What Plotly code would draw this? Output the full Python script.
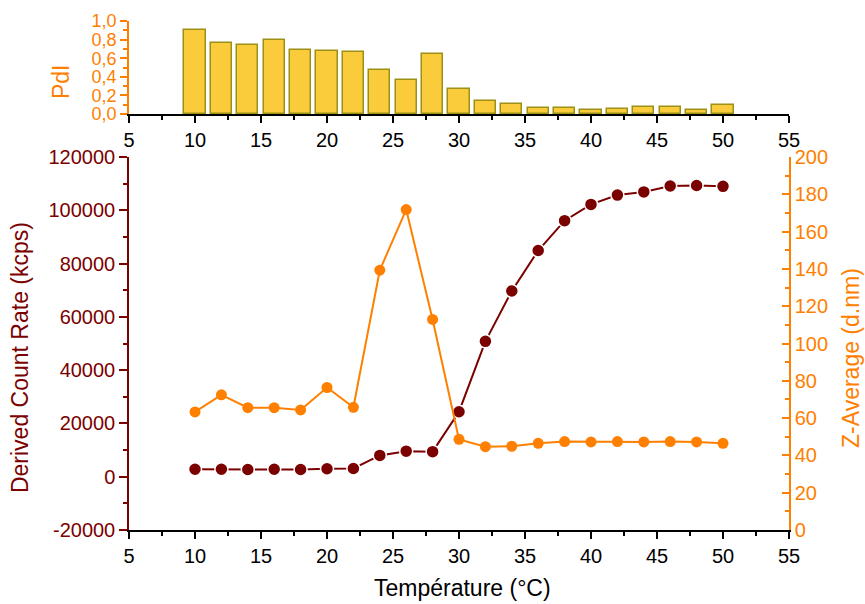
import plotly.graph_objects as go

temps = [10, 12, 14, 16, 18, 20, 22, 24, 26, 28, 30, 32, 34, 36, 38, 40, 42, 44, 46, 48, 50]
pdi = [0.90, 0.76, 0.745, 0.80, 0.685, 0.677, 0.67, 0.47, 0.37, 0.645, 0.27,
       0.14, 0.105, 0.065, 0.065, 0.047, 0.058, 0.075, 0.072, 0.047, 0.094]
count_rate = [2800, 2800, 2700, 2800, 2700, 3000, 3100, 8000, 9600, 9400, 24400,
              50800, 69700, 84900, 96100, 102200, 105700, 106900, 109100, 109300, 109000]
z_avg = [63.3, 72.5, 65.6, 65.6, 64.4, 76.4, 65.8, 139.3, 171.8, 112.9, 48.6,
         44.7, 44.9, 46.5, 47.4, 47.2, 47.4, 47.2, 47.4, 47.2, 46.5]

x_ticks = [5, 10, 15, 20, 25, 30, 35, 40, 45, 50, 55]
x_ticktext = [str(v) for v in x_ticks]
left_ticks = [-20000, 0, 20000, 40000, 60000, 80000, 100000, 120000]
left_ticktext = [str(v) for v in left_ticks]
right_ticks = [0, 20, 40, 60, 80, 100, 120, 140, 160, 180, 200]
right_ticktext = [str(v) for v in right_ticks]
pdi_ticks = [0.0, 0.2, 0.4, 0.6, 0.8, 1.0]
pdi_ticktext = ["0,0", "0,2", "0,4", "0,6", "0,8", "1,0"]

MAROON = "#7B0000"
ORANGE = "#FF8000"
FONT = "Liberation Sans, Arial, sans-serif"

fig = go.Figure()

fig.add_trace(go.Bar(
    x=temps, y=pdi, width=1.6, xaxis="x2", yaxis="y3",
    marker=dict(color="#FACB3A", line=dict(color="#9C9117", width=1.5)),
    showlegend=False,
))
fig.add_trace(go.Scatter(
    x=temps, y=count_rate, xaxis="x", yaxis="y", mode="lines+markers",
    line=dict(color=MAROON, width=2),
    marker=dict(color=MAROON, size=13, line=dict(color="white", width=1.5)),
    showlegend=False,
))
fig.add_trace(go.Scatter(
    x=temps, y=z_avg, xaxis="x", yaxis="y2", mode="lines+markers",
    line=dict(color=ORANGE, width=2),
    marker=dict(color=ORANGE, size=11),
    showlegend=False,
))

main_top = 373 / 509
top_bottom = 416 / 509

common_x = dict(
    range=[5, 55], tickvals=x_ticks, ticktext=x_ticktext,
    showgrid=False, zeroline=False, showline=True, linecolor="black", linewidth=1.5,
    ticks="outside", ticklen=7, tickwidth=1.5, tickcolor="black",
    tickfont=dict(family=FONT, size=20, color="black"),
    minor=dict(dtick=2.5, tick0=5, ticks="outside", ticklen=4, tickwidth=1.5, tickcolor="black", showgrid=False),
    fixedrange=True, automargin=False,
)

fig.update_layout(
    width=865, height=604,
    margin=dict(l=129, r=76, t=21, b=74, autoexpand=False),
    paper_bgcolor="white", plot_bgcolor="white",
    font=dict(family=FONT),
    bargap=0,
    xaxis=dict(domain=[0, 1], anchor="y", **common_x),
    xaxis2=dict(domain=[0, 1], anchor="y3", **common_x),
    yaxis=dict(
        domain=[0, main_top], range=[-20000, 120000], anchor="x", automargin=False,
        tickvals=left_ticks, ticktext=left_ticktext,
        showgrid=False, zeroline=False, showline=True, linecolor=MAROON, linewidth=1.5,
        ticks="outside", ticklen=8, tickwidth=1.5, tickcolor=MAROON,
        tickfont=dict(family=FONT, size=20, color=MAROON),
        minor=dict(dtick=10000, tick0=0, ticks="outside", ticklen=4, tickwidth=1.5, tickcolor=MAROON, showgrid=False),
    ),
    yaxis2=dict(
        domain=[0, main_top], range=[0, 200], anchor="x", overlaying="y", side="right", automargin=False,
        tickvals=right_ticks, ticktext=right_ticktext,
        showgrid=False, zeroline=False, showline=True, linecolor=ORANGE, linewidth=1.5,
        ticks="inside", ticklen=7, tickwidth=1.5, tickcolor=ORANGE,
        tickfont=dict(family=FONT, size=20, color=ORANGE),
        minor=dict(dtick=10, tick0=0, ticks="inside", ticklen=4, tickwidth=1.5, tickcolor=ORANGE, showgrid=False),
    ),
    yaxis3=dict(
        domain=[top_bottom, 1], range=[0, 1.0], anchor="x2", automargin=False,
        tickvals=pdi_ticks, ticktext=pdi_ticktext,
        showgrid=False, zeroline=False, showline=True, linecolor=ORANGE, linewidth=1.5,
        ticks="outside", ticklen=7, tickwidth=1.5, tickcolor=ORANGE,
        tickfont=dict(family=FONT, size=18, color=ORANGE),
        minor=dict(dtick=0.1, tick0=0, ticks="outside", ticklen=4, tickwidth=1.5, tickcolor=ORANGE, showgrid=False),
    ),
    annotations=[
        dict(text="Température (°C)", xref="paper", yref="paper", x=0.506, y=-0.114,
             showarrow=False, font=dict(family=FONT, size=23, color="black"),
             xanchor="center", yanchor="middle"),
        dict(text="Derived Count Rate (kcps)", xref="paper", yref="paper", x=-0.165, y=0.338,
             showarrow=False, textangle=-90, font=dict(family=FONT, size=23, color=MAROON),
             xanchor="center", yanchor="middle"),
        dict(text="Z-Average (d.nm)", xref="paper", yref="paper", x=1.094, y=0.338,
             showarrow=False, textangle=-90, font=dict(family=FONT, size=23, color=ORANGE),
             xanchor="center", yanchor="middle"),
        dict(text="PdI", xref="paper", yref="paper", x=-0.103, y=0.880,
             showarrow=False, textangle=-90, font=dict(family=FONT, size=23, color=ORANGE),
             xanchor="center", yanchor="middle"),
    ],
)

fig.write_html(
    "out.html",
    config={"displayModeBar": False},
    post_script="document.body.style.margin='0';document.body.style.overflow='hidden';",
)
